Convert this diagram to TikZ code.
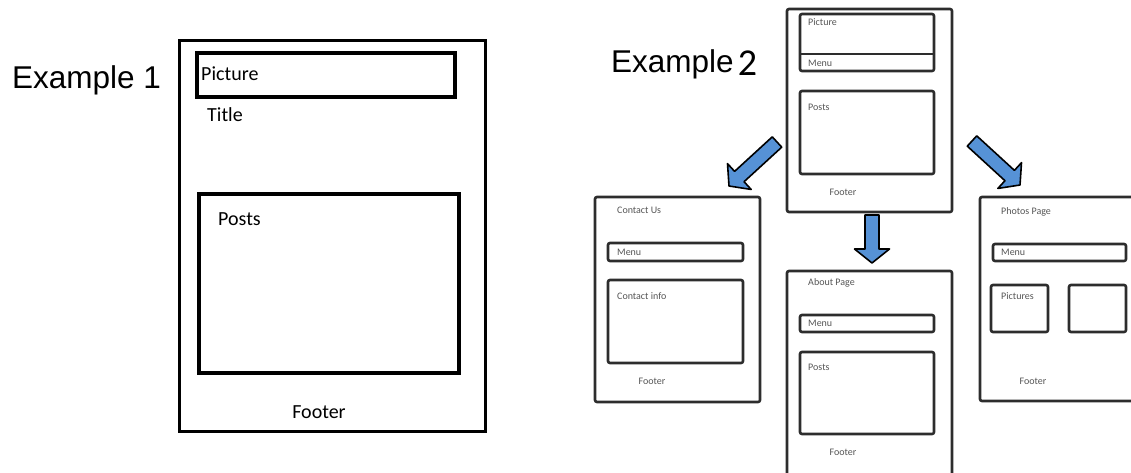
\documentclass[tikz,border=0pt]{standalone}
\usepackage{fontspec}
\setmainfont{Carlito}
\newfontfamily\arialf{Liberation Sans}
\usetikzlibrary{calc}
\definecolor{arrowblue}{RGB}{86,146,214}
\definecolor{wfgray}{RGB}{45,45,45}
\definecolor{smalltext}{RGB}{85,85,85}
\newcommand\blockarrow[2]{%
  \coordinate (hb) at ($(#2)!14pt!(#1)$);
  \draw[barrow] ($(#1)!7pt!90:(#2)$) -- ($(hb)!7pt!90:(#2)$) -- ($(hb)!17.5pt!90:(#2)$) -- (#2)
     -- ($(hb)!17.5pt!-90:(#2)$) -- ($(hb)!7pt!-90:(#2)$) -- ($(#1)!7pt!-90:(#2)$) -- cycle;}
\begin{document}
\begin{tikzpicture}[x=1pt,y=-1pt,
  big/.style={draw=black, line width=3pt},
  wf/.style={draw=wfgray, line width=2.6pt, rounded corners=2pt},
  lbl/.style={anchor=base west, inner sep=0pt, font=\fontsize{20}{24}\selectfont},
  lblc/.style={lbl, anchor=base},
  sm/.style={anchor=base west, inner sep=0pt, text=smalltext, font=\fontsize{10}{12}\selectfont},
  smc/.style={sm, anchor=base},
  ex/.style={anchor=base west, inner sep=0pt, font=\arialf\fontsize{31.5}{36}\selectfont},
  barrow/.style={fill=arrowblue, draw=black, line width=1.6pt, line join=round}]
\useasboundingbox (0,0) rectangle (1131,472);

% ---------------- Example 1 ----------------
\node[ex] (ex1) at (12,88) {Example 1};
\draw[big] (179,40) rectangle (485,431);
\draw[big, line width=3.5pt] (197,53) rectangle (455,97);
\draw[big, line width=3.5pt] (199,194) rectangle (459,373);
\node[lbl] (e1pic) at (201,80) {Picture};
\node[lbl] (e1title) at (207,121) {Title};
\node[lbl] (e1posts) at (218,225) {Posts};
\node[lblc] (e1foot) at (319,418) {Footer};

% ---------------- Example 2 ----------------
\node[ex] (ex2) at (611,72) {Example\hspace{4pt}\raisebox{-3pt}{\fontsize{38}{42}\selectfont\rmfamily 2}};

% main page
\draw[wf] (787,9) rectangle (952,212);
\draw[wf] (800,14) rectangle (934,71);
\draw[draw=wfgray, line width=2.6pt] (800,54) -- (934,54);
\draw[wf] (800,91) rectangle (934,174);
\node[sm] (mpic) at (808,25) {Picture};
\node[sm] (mmenu) at (808,66) {Menu};
\node[sm] (mposts) at (808,110) {Posts};
\node[smc] (mfoot) at (843,195) {Footer};

% contact page
\draw[wf] (595,197) rectangle (760,402);
\draw[wf] (608,243) rectangle (743,261);
\draw[wf] (608,280) rectangle (743,363);
\node[sm] (ctitle) at (617,213) {Contact Us};
\node[sm] (cmenu) at (617,255) {Menu};
\node[sm] (cinfo) at (617,299) {Contact info};
\node[smc] (cfoot) at (652,384) {Footer};

% about page
\draw[wf] (787,271) rectangle (952,478);
\draw[wf] (800,315) rectangle (934,332);
\draw[wf] (800,352) rectangle (934,434);
\node[sm] (atitle) at (808,285) {About Page};
\node[sm] (amenu) at (808,326) {Menu};
\node[sm] (aposts) at (808,370) {Posts};
\node[smc] (afoot) at (843,455) {Footer};

% photos page
\draw[wf] (980,197) rectangle (1142,401);
\draw[wf] (993,244) rectangle (1126,261);
\draw[wf] (991,285) rectangle (1048,332);
\draw[wf] (1069,285) rectangle (1126,332);
\node[sm] (ptitle) at (1001,214) {Photos Page};
\node[sm] (pmenu) at (1001,255) {Menu};
\node[sm] (ppics) at (1001,299) {Pictures};
\node[smc] (pfoot) at (1033,384) {Footer};

% arrows
\coordinate (la) at (777,142);
\coordinate (lb) at (729,186);
\coordinate (da) at (872,215);
\coordinate (db) at (872,263);
\coordinate (ra) at (972,141);
\coordinate (rb) at (1020,185);
\blockarrow{la}{lb}
\blockarrow{da}{db}
\blockarrow{ra}{rb}
\end{tikzpicture}
\end{document}
